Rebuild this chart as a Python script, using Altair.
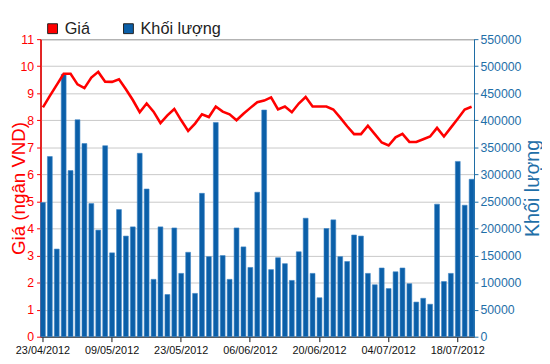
import altair as alt
import pandas as pd

dates = [
    "23/04/2012", "24/04/2012", "25/04/2012", "26/04/2012", "27/04/2012",
    "02/05/2012", "03/05/2012", "04/05/2012", "07/05/2012", "08/05/2012",
    "09/05/2012", "10/05/2012", "11/05/2012", "14/05/2012", "15/05/2012",
    "16/05/2012", "17/05/2012", "18/05/2012", "21/05/2012", "22/05/2012",
    "23/05/2012", "24/05/2012", "25/05/2012", "28/05/2012", "29/05/2012",
    "30/05/2012", "31/05/2012", "01/06/2012", "04/06/2012", "05/06/2012",
    "06/06/2012", "07/06/2012", "08/06/2012", "11/06/2012", "12/06/2012",
    "13/06/2012", "14/06/2012", "15/06/2012", "18/06/2012", "19/06/2012",
    "20/06/2012", "21/06/2012", "22/06/2012", "25/06/2012", "26/06/2012",
    "27/06/2012", "28/06/2012", "29/06/2012", "02/07/2012", "03/07/2012",
    "04/07/2012", "05/07/2012", "06/07/2012", "09/07/2012", "10/07/2012",
    "11/07/2012", "12/07/2012", "13/07/2012", "16/07/2012", "17/07/2012",
    "18/07/2012", "19/07/2012", "20/07/2012",
]

price = [
    8.48, 8.90, 9.31, 9.72, 9.72, 9.33, 9.19, 9.58, 9.79, 9.43,
    9.42, 9.52, 9.15, 8.75, 8.30, 8.62, 8.32, 7.90, 8.18, 8.42,
    8.00, 7.61, 7.88, 8.22, 8.12, 8.51, 8.32, 8.22, 8.00, 8.24,
    8.46, 8.67, 8.73, 8.85, 8.40, 8.51, 8.30, 8.62, 8.86, 8.51,
    8.51, 8.51, 8.40, 8.10, 7.78, 7.49, 7.49, 7.80, 7.49, 7.18,
    7.07, 7.37, 7.50, 7.20, 7.20, 7.30, 7.40, 7.72, 7.40, 7.73,
    8.06, 8.40, 8.50,
]

volume = [
    248000, 333000, 162000, 485000, 307000, 401000, 357000, 246000, 197000, 353000,
    155000, 235000, 186000, 203000, 339000, 273000, 106000, 203000, 78000, 201000,
    117000, 156000, 80000, 265000, 148000, 396000, 150000, 106000, 201000, 166000,
    128000, 267000, 419000, 124000, 146000, 135000, 104000, 157000, 219000, 117000,
    72000, 200000, 216000, 148000, 139000, 188000, 186000, 117000, 96000, 127000,
    89000, 120000, 127000, 98000, 64000, 71000, 60000, 245000, 102000, 117000,
    324000, 243000, 291000,
]

series_names = ["Giá", "Khối lượng"]
series_colors = ["#ff0000", "#0b5fa8"]
tick_dates = dates[::10]
price_ticks = list(range(0, 12))
volume_ticks = list(range(0, 550001, 50000))

df = pd.DataFrame({"date": dates, "price": price, "volume": volume})
df["series"] = series_names[1]

FONT = "Liberation Sans, Arial"
RED = "#ff0000"
BLUE = "#1f6fa8"

x_enc = alt.X(
    "date:N",
    sort=None,
    scale=alt.Scale(paddingInner=0.3, paddingOuter=0.0),
    axis=alt.Axis(
        title=None, values=tick_dates, labelAngle=0, labelFont=FONT,
        labelFontSize=11, labelColor="#111111", tickColor="#111111",
        domainColor="#333333", tickSize=5, labelPadding=3, grid=False,
    ),
)

bars = alt.Chart(df).mark_bar(stroke="#3d85c6", strokeWidth=0.6).encode(
    x=x_enc,
    y=alt.Y(
        "volume:Q",
        scale=alt.Scale(domain=[0, 550000], nice=False),
        axis=alt.Axis(
            orient="right", title="Khối lượng", values=volume_ticks, format="d",
            labelFont=FONT, labelFontSize=12.5, labelColor=BLUE, tickColor=BLUE,
            domainColor=BLUE, tickSize=4, labelPadding=2, grid=False,
            titleFont=FONT, titleFontSize=20, titleFontWeight="normal",
            titleColor=BLUE, titleAngle=270, titleX=59, titleY=151,
            titleBaseline="middle", titleAlign="center",
        ),
    ),
    color=alt.Color(
        "series:N",
        scale=alt.Scale(domain=series_names, range=series_colors),
        legend=alt.Legend(
            title=None, orient="none", legendX=4, legendY=-19,
            direction="horizontal", symbolType="square", symbolSize=100,
            symbolStrokeColor="#222222", symbolStrokeWidth=1,
            labelFont=FONT, labelFontSize=16.5, labelColor="#222222",
            columnPadding=30, labelOffset=4,
        ),
    ),
)

line = alt.Chart(df).mark_line(color=RED, strokeWidth=2.6).encode(
    x=x_enc,
    y=alt.Y(
        "price:Q",
        scale=alt.Scale(domain=[0, 11], nice=False),
        axis=alt.Axis(
            orient="left", title="Giá (ngân VND)", values=price_ticks,
            labelFont=FONT, labelFontSize=12.5, labelColor=RED, tickColor=RED,
            domainColor=RED, domainWidth=1.5, tickSize=4, labelPadding=3,
            grid=True, gridColor="#c8c8c8", gridWidth=1,
            titleFont=FONT, titleFontSize=19, titleFontWeight="normal",
            titleColor=RED, titleAngle=270, titleX=-22, titleY=151,
            titleBaseline="middle", titleAlign="center",
        ),
    ),
)

chart = (
    alt.layer(bars, line)
    .resolve_scale(y="independent")
    .properties(
        width=440, height=302,
        autosize=alt.AutoSizeParams(type="none"),
        padding={"left": 33, "top": 29, "right": 69, "bottom": 19},
    )
    .configure_view(stroke="#222222", strokeWidth=1)
)

chart.save("out.html", embed_options={"renderer": "svg", "actions": False})
